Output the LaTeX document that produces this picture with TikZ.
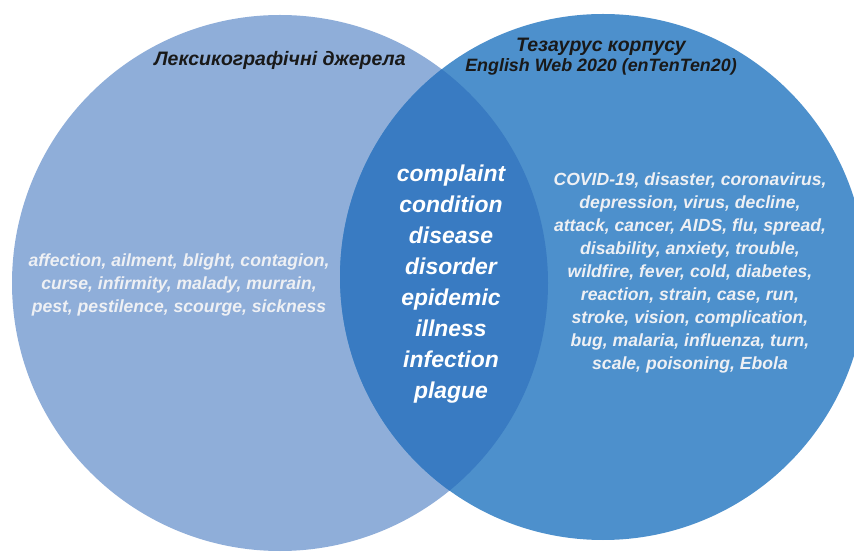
\documentclass[tikz,border=0pt]{standalone}
\usepackage{fontspec}
\setmainfont{Liberation Sans}

\definecolor{lexBlue}{RGB}{143,174,217}
\definecolor{corpBlue}{RGB}{77,144,204}
\definecolor{sharedBlue}{RGB}{57,123,194}
\definecolor{wordGray}{RGB}{238,240,244}

\tikzset{every picture/.style={line width=0.75pt}}
\tikzset{
  titleText/.style={align=center, text=black!90, font=\bfseries\itshape\fontsize{13.4}{15}\selectfont},
  listText/.style={align=center, text=wordGray, font=\bfseries\itshape\fontsize{13.2}{17.3}\selectfont},
  sharedText/.style={align=center, text=white, font=\bfseries\itshape\fontsize{17.2}{23.3}\selectfont}
}
% Cyrillic headings run a little wider
\newcommand{\cyrhead}[1]{{\fontsize{14.6}{15}\selectfont #1}}

\begin{document}
\begin{tikzpicture}[x=0.75pt,y=0.75pt,yscale=-1,xscale=1]
%set diagram left start at 0, and has height of 552
\clip (0,0) rectangle (854,552);
\fill [white] (0,0) rectangle (854,552);

%Circle: dictionaries
\fill [lexBlue] (280,283) circle (268);
%Circle: corpus thesaurus
\fill [corpBlue] (603,277) circle (263);
%Overlap of both circles
\begin{scope}
  \clip (280,283) circle (268);
  \fill [sharedBlue] (603,277) circle (263);
\end{scope}

% Text Node
\draw (280,60) node (lexTitle) [titleText] {\cyrhead{Лексикографічні джерела}};
% Text Node
\draw (601,57) node (corpTitle) [titleText] {\cyrhead{Тезаурус корпусу}\\English Web 2020 (enTenTen20)};
% Text Node
\draw (179,285) node (lexWords) [listText] {affection, ailment, blight, contagion,\\curse, infirmity, malady, murrain,\\pest, pestilence, scourge, sickness};
% Text Node
\draw (451,284) node (sharedWords) [sharedText] {complaint\\condition\\disease\\disorder\\epidemic\\illness\\infection\\plague};
% Text Node
\draw (690,273) node (corpWords) [listText] {COVID-19, disaster, coronavirus,\\depression, virus, decline,\\attack, cancer, AIDS, flu, spread,\\disability, anxiety, trouble,\\wildfire, fever, cold, diabetes,\\reaction, strain, case, run,\\stroke, vision, complication,\\bug, malaria, influenza, turn,\\scale, poisoning, Ebola};

\end{tikzpicture}
\end{document}
